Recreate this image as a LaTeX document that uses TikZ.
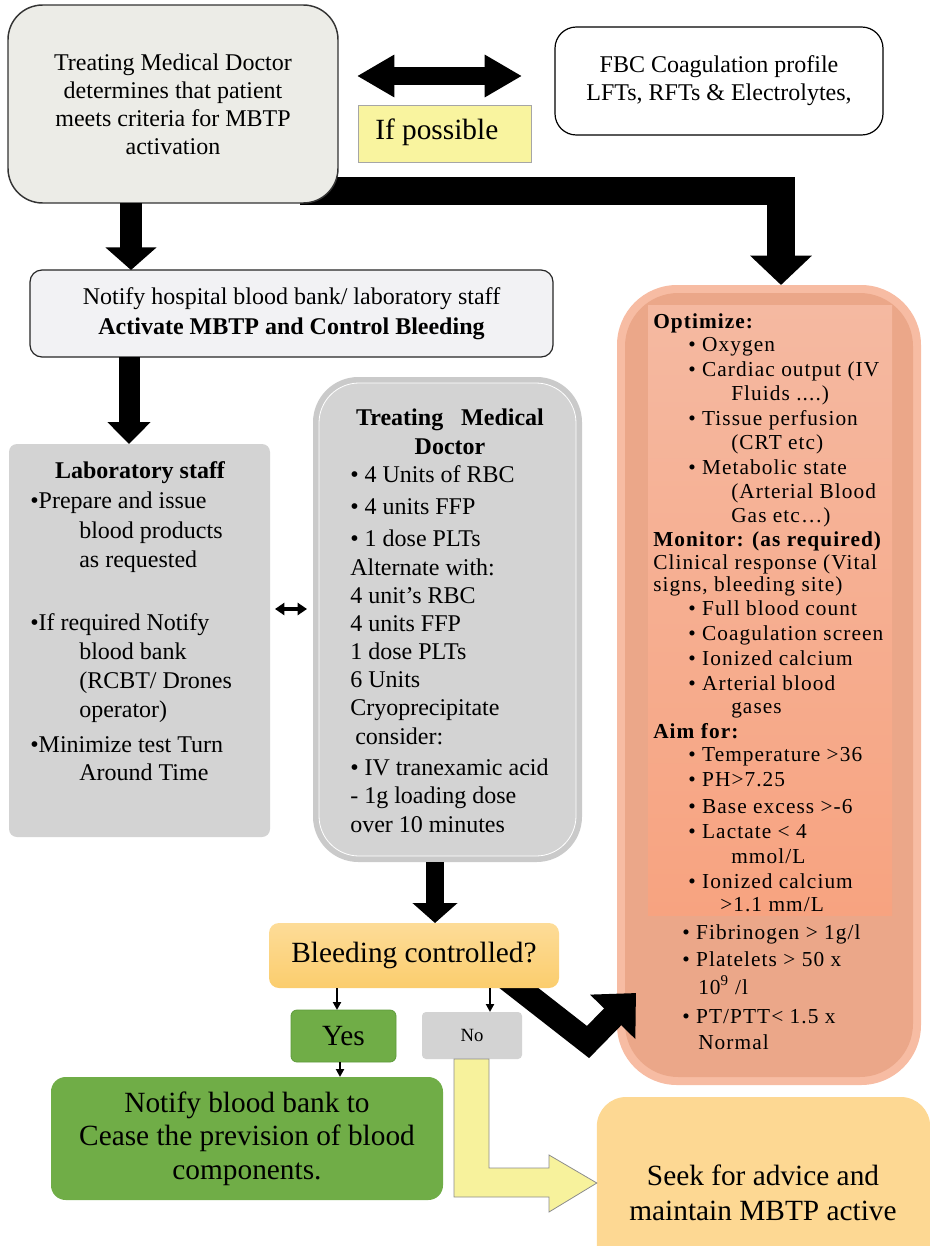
\documentclass[tikz,border=0pt]{standalone}
\usepackage{fontspec}
\setmainfont{Liberation Serif}
\newfontfamily\wide[LetterSpace=5]{Liberation Serif}
\usetikzlibrary{arrows.meta,calc}
\definecolor{topgray}{HTML}{ECECE7}
\definecolor{ifyel}{HTML}{F9F49F}
\definecolor{notgray}{HTML}{F2F2F4}
\definecolor{labgray}{HTML}{D3D3D3}
\definecolor{midout}{HTML}{CACACA}
\definecolor{orrim}{HTML}{F7BCA3}
\definecolor{orin}{HTML}{EBA789}
\definecolor{ortop}{HTML}{F5B9A1}
\definecolor{orbot}{HTML}{F7A380}
\definecolor{bltop}{HTML}{FDDC98}
\definecolor{blbot}{HTML}{FBCD6D}
\definecolor{grn}{HTML}{70AD47}
\definecolor{grnd}{HTML}{5E9A3A}
\definecolor{yarrow}{HTML}{F7F29C}
\definecolor{seekc}{HTML}{FDD893}
\begin{document}
\begin{tikzpicture}[x=0.75pt,y=-0.75pt,
  boxn/.style={inner sep=0pt, outer sep=0pt},
  t18/.style={font=\fontsize{18}{21}\selectfont, inner sep=0pt},
  t18l/.style={font=\fontsize{18}{22}\selectfont, inner sep=0pt, anchor=base west},
  t16l/.style={font=\wide\fontsize{16}{19}\selectfont, inner sep=0pt, anchor=base west},
  t22/.style={font=\fontsize{22}{25}\selectfont, inner sep=0pt, align=center},
  bigarrow/.style={draw=black, line width=#1},
]
\useasboundingbox (0,0) rectangle (929,1246);

% ---------- orange box (drawn first: arrows overlap it) ----------
\node[boxn, fill=orrim, rounded corners=45pt, minimum width=228pt, minimum height=600pt] (opt) at (769,685) {};
\node[boxn, fill=orin, rounded corners=40pt, minimum width=216pt, minimum height=588pt] (optin) at (769,685) {};
\node[boxn, top color=ortop, bottom color=orbot, minimum width=183pt, minimum height=457.5pt] (optrect) at (770,610) {};

% ---------- big arrow from box1 to orange box ----------
\coordinate (bandstart) at (300,191);
\draw[bigarrow=21pt, -{Triangle[length=22pt,width=45pt]}] (bandstart) -- (781,191) -- (781,0 |- opt.north);

% ---------- top-left box ----------
\node[boxn, draw=black!80, line width=1.1pt, fill=topgray, rounded corners=26pt,
      minimum width=247.5pt, minimum height=148.5pt, t18, align=center] (box1) at (173,104)
  {Treating Medical Doctor\\determines that patient\\meets criteria for MBTP\\activation};

% ---------- FBC box ----------
\node[boxn, draw=black, line width=0.9pt, fill=white, rounded corners=16pt,
      minimum width=246pt, minimum height=81pt, t18, align=center] (fbc) at (719,81)
  {FBC Coagulation profile\\LFTs, RFTs \& Electrolytes,};

% double arrow
\coordinate (dl) at (357,76);
\coordinate (dr) at (522,76);
\draw[bigarrow=13.5pt, {Triangle[length=28pt,width=30pt]}-{Triangle[length=28pt,width=30pt]}] (dl) -- (dr);

% If possible
\node[boxn, draw=black!35, line width=0.6pt, fill=ifyel, minimum width=129.75pt, minimum height=42.75pt] (ifp) at (444.5,133.5) {};
\node[font=\fontsize{22}{25}\selectfont, inner sep=0pt, anchor=west] (ifpt) at (375,132) {If possible};

% ---------- Notify box ----------
\node[boxn, draw=black!85, line width=0.9pt, fill=notgray, rounded corners=9pt,
      minimum width=392.25pt, minimum height=65.25pt,
      font=\fontsize{18}{22.5}\selectfont, align=center] (notify) at (291.5,313.5)
  {Notify hospital blood bank/ laboratory staff\\\textbf{Activate MBTP and Control Bleeding}};

\draw[bigarrow=16.5pt, -{Triangle[length=17pt,width=37.5pt]}] (131,203) -- (131,0 |- notify.north);

% ---------- Laboratory staff ----------
\node[boxn, fill=labgray, rounded corners=6pt, minimum width=195.75pt, minimum height=294.75pt] (lab) at (139.5,640.5) {};
\draw[bigarrow=15.75pt, -{Triangle[length=16.5pt,width=31.5pt]}] (129,0 |- notify.south) -- (129,0 |- lab.north);
\node[font=\bfseries\fontsize{18}{22}\selectfont, inner sep=0pt, anchor=base] (labt) at (140,478) {Laboratory staff};
\foreach \x/\y/\t [count=\i] in {30/508/{•Prepare and issue}, 79/538/{blood products}, 79/567/{as requested},
   30/630/{•If required Notify}, 79/659/{blood bank}, 79/688/{(RCBT/ Drones}, 79/717/{operator)},
   30/752/{•Minimize test Turn}, 79/780/{Around Time}}
  \node[t18l] (lab\i) at (\x,\y) {\t};

% ---------- Treating Medical Doctor (middle) ----------
\node[boxn, fill=midout, rounded corners=34pt, minimum width=201.75pt, minimum height=363.75pt] (mid) at (447.5,619.5) {};
\node[boxn, draw=white, line width=0.6pt, fill=labgray, rounded corners=30pt, minimum width=192.75pt, minimum height=354.75pt] (midin) at (447.5,619.5) {};
\node[font=\bfseries\fontsize{18}{22}\selectfont, inner sep=0pt, anchor=base] (midt1) at (450,425) {Treating\ \ \ Medical};
\node[font=\bfseries\fontsize{18}{22}\selectfont, inner sep=0pt, anchor=base] (midt2) at (450,454) {Doctor};
\foreach \x/\y/\t [count=\i] in {350/482/{• 4 Units of RBC}, 350/514/{• 4 units FFP}, 350/546/{• 1 dose PLTs},
   350/575/{Alternate with:}, 350/603/{4 unit’s RBC}, 350/631/{4 units FFP}, 350/659/{1 dose PLTs},
   350/687/{6 Units}, 350/715/{Cryoprecipitate}, 355/744/{consider:}, 350/775/{• IV tranexamic acid},
   350/803/{- 1g loading dose}, 350/832/{over 10 minutes}}
  \node[t18l] (mid\i) at (\x,\y) {\t};

% small double arrow
\coordinate (sl) at (275,609);
\coordinate (sr) at (307,609);
\draw[line width=3pt, {Triangle[length=7pt,width=9pt]}-{Triangle[length=7pt,width=9pt]}] (sl) -- (sr);

% ---------- orange text ----------
\foreach \x/\y/\t [count=\i] in {653/328/{\textbf{Optimize:}}, 688/351/{• Oxygen}, 688/376/{• Cardiac output (IV},
   731/400/{Fluids ....)}, 688/425/{• Tissue perfusion}, 731/449/{(CRT etc)}, 688/474/{• Metabolic state},
   731/498/{(Arterial Blood}, 731/522/{Gas etc…)}, 653/546/{\textbf{Monitor: (as required)}},
   653/569/{Clinical response (Vital}, 653/591/{signs, bleeding site)}, 688/615/{• Full blood count},
   688/640/{• Coagulation screen}, 688/665/{• Ionized calcium}, 688/690/{• Arterial blood}, 731/713/{gases},
   653/738/{\textbf{Aim for:}}, 688/761/{• Temperature >36}, 688/786/{• PH>7.25}, 688/813/{• Base excess >-6},
   688/838/{• Lactate < 4}, 731/863/{mmol/L}, 688/888/{• Ionized calcium}, 720/911/{>1.1 mm/L},
   682/939/{• Fibrinogen > 1g/l}, 682/966/{• Platelets > 50 x}, 698/994/{10\textsuperscript{9} /l},
   682/1023/{• PT/PTT< 1.5 x}, 698/1049/{Normal}}
  \node[t16l] (o\i) at (\x,\y) {\t};

% ---------- Bleeding controlled ----------
\draw[bigarrow=13.5pt, -{Triangle[length=15pt,width=33pt]}] (435,0 |- mid.south) -- (435,923);
\coordinate (dgs) at (506,978);
\draw[bigarrow=18pt, -{Triangle[length=25pt,width=46pt]}] (dgs) -- (588,1042) -- (636,993);
\node[boxn, top color=bltop, bottom color=blbot, rounded corners=7.5pt, minimum width=217.5pt, minimum height=48.75pt,
      font=\fontsize{22}{25}\selectfont] (bleed) at (414,955.5) {Bleeding controlled?};

% Yes / No
\node[boxn, draw=grnd, line width=0.6pt, fill=grn, rounded corners=4.5pt, minimum width=78.75pt, minimum height=39pt,
      font=\fontsize{22}{25}\selectfont] (yes) at (343.5,1036) {\raisebox{-3pt}{Yes}};
\node[boxn, fill=labgray, rounded corners=3pt, minimum width=75pt, minimum height=35.25pt,
      font=\fontsize{14}{16}\selectfont] (no) at (472,1035.5) {No};
\draw[line width=2pt, -{Triangle[length=6pt,width=6pt]}] (337,0 |- bleed.south) -- (337,0 |- yes.north);
\draw[line width=2pt, -{Triangle[length=6pt,width=6pt]}] (490,0 |- bleed.south) -- (490,0 |- no.north);

% Cease box
\node[boxn, fill=grn, rounded corners=11pt, minimum width=294pt, minimum height=92.25pt,
      t22, text=black] (cease) at (247,1138.5) {Notify blood bank to\\Cease the prevision of blood\\components.};
\draw[line width=2pt, -{Triangle[length=6pt,width=6pt]}] (340,0 |- yes.south) -- (340,0 |- cease.north);

% Seek box
\node[boxn, fill=seekc, rounded corners=22pt, minimum width=250pt, minimum height=133.5pt] (seek) at (763.5,1186) {};
\node[font=\fontsize{22}{26}\selectfont, inner sep=0pt, align=center] (seekt) at (763,1193) {Seek for advice and\\maintain MBTP active};

% yellow bent arrow from No to Seek
\draw[draw=black!45, line width=0.6pt, fill=yarrow]
  ($(no.south west)+(32,0)$) -- ($(no.south west)+(67,0)$) -- (489,1168) -- (549,1168) -- (549,1155)
  -- (seek.west |- 0,1183) -- (549,1212) -- (549,1197) -- (454,1197) -- cycle;
\end{tikzpicture}
\end{document}
